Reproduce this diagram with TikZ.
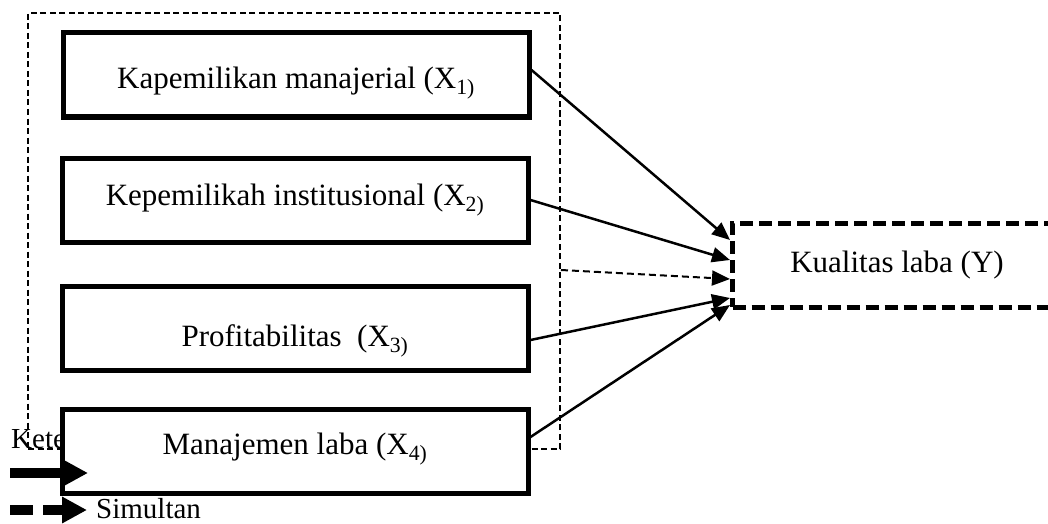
\documentclass[tikz,border=0pt]{standalone}
\usepackage{fontspec}
\setmainfont{Liberation Serif}
\usetikzlibrary{positioning,calc,arrows.meta}
\newcommand{\boxfont}{\fontsize{31}{36}\selectfont}
\newcommand{\legfont}{\fontsize{29}{33}\selectfont}
\tikzset{
  varbox/.style={draw,line width=5pt,fill=white,minimum width=466pt,
    minimum height=84pt,inner sep=0pt,font=\boxfont},
  ybox/.style={draw,line width=5pt,dash pattern=on 13pt off 6pt,fill=white,
    minimum width=329pt,minimum height=84pt,inner sep=0pt,font=\boxfont},
  grpbox/.style={draw,line width=2pt,dash pattern=on 6pt off 3.5pt,
    minimum width=532pt,minimum height=436pt,inner sep=0pt},
  effect/.style={line width=2.5pt,-{Triangle[length=18pt,width=15pt]}},
  simul/.style={effect,dash pattern=on 7pt off 4pt,line width=2pt},
  legarrow/.style={line width=10pt,-{Triangle[length=25pt,width=25pt]}}
}

\begin{document}
\begin{tikzpicture}[x=1pt,y=-1pt]
% Page size
\useasboundingbox (0,0) rectangle (1048,524);
\clip (0,0) rectangle (1048,524);

% Dashed group round the independent variables
\node[grpbox] (grp) at (294,231) {};

% Legend title, partly under X4
\node[anchor=base west,inner sep=0pt,font=\legfont] (ket) at (11,448) {Kete};

% Independent variables
\node[varbox,text height=32pt,text depth=5.5pt] (x1) at (296,75)
  {Kapemilikan manajerial (X\textsubscript{1)}};
\node[varbox] (x2) at (295,200) {Kepemilikah institusional (X\textsubscript{2)}};
\node[varbox,text height=42pt,text depth=5.5pt] (x3) at (295,328)
  {Profitabilitas \ (X\textsubscript{3)}};
\node[varbox,text height=17pt,text depth=10.5pt] (x4) at (295,451)
  {Manajemen laba (X\textsubscript{4)}};

% Dependent variable
\node[ybox] (y) at (897,265) {Kualitas laba (Y)};

% Partial effects
\draw[effect] ([yshift=5pt]x1.east) -- ([yshift=25pt]y.west);
\draw[effect] (x2.east) -- ([yshift=5pt]y.west);
\draw[effect] ([yshift=-12pt]x3.east) -- ([yshift=-33pt]y.west);
\draw[effect] ([yshift=14pt]x4.east) -- ([yshift=-40pt]y.west);

% Simultaneous effect
\draw[simul] ([yshift=-39pt]grp.east) -- ([yshift=-14pt]y.west);

% Legend
\coordinate (ps) at (10,473);
\coordinate (pe) at (88,473);
\coordinate (ss) at (10,510);
\coordinate (se) at (87,510);
\draw[legarrow] (ps) -- (pe);
\draw[legarrow,dash pattern=on 23pt off 10pt] (ss) -- (se);
\node[anchor=base west,inner sep=0pt,font=\legfont] (sim) at (96,518) {Simultan};
\end{tikzpicture}
\end{document}
